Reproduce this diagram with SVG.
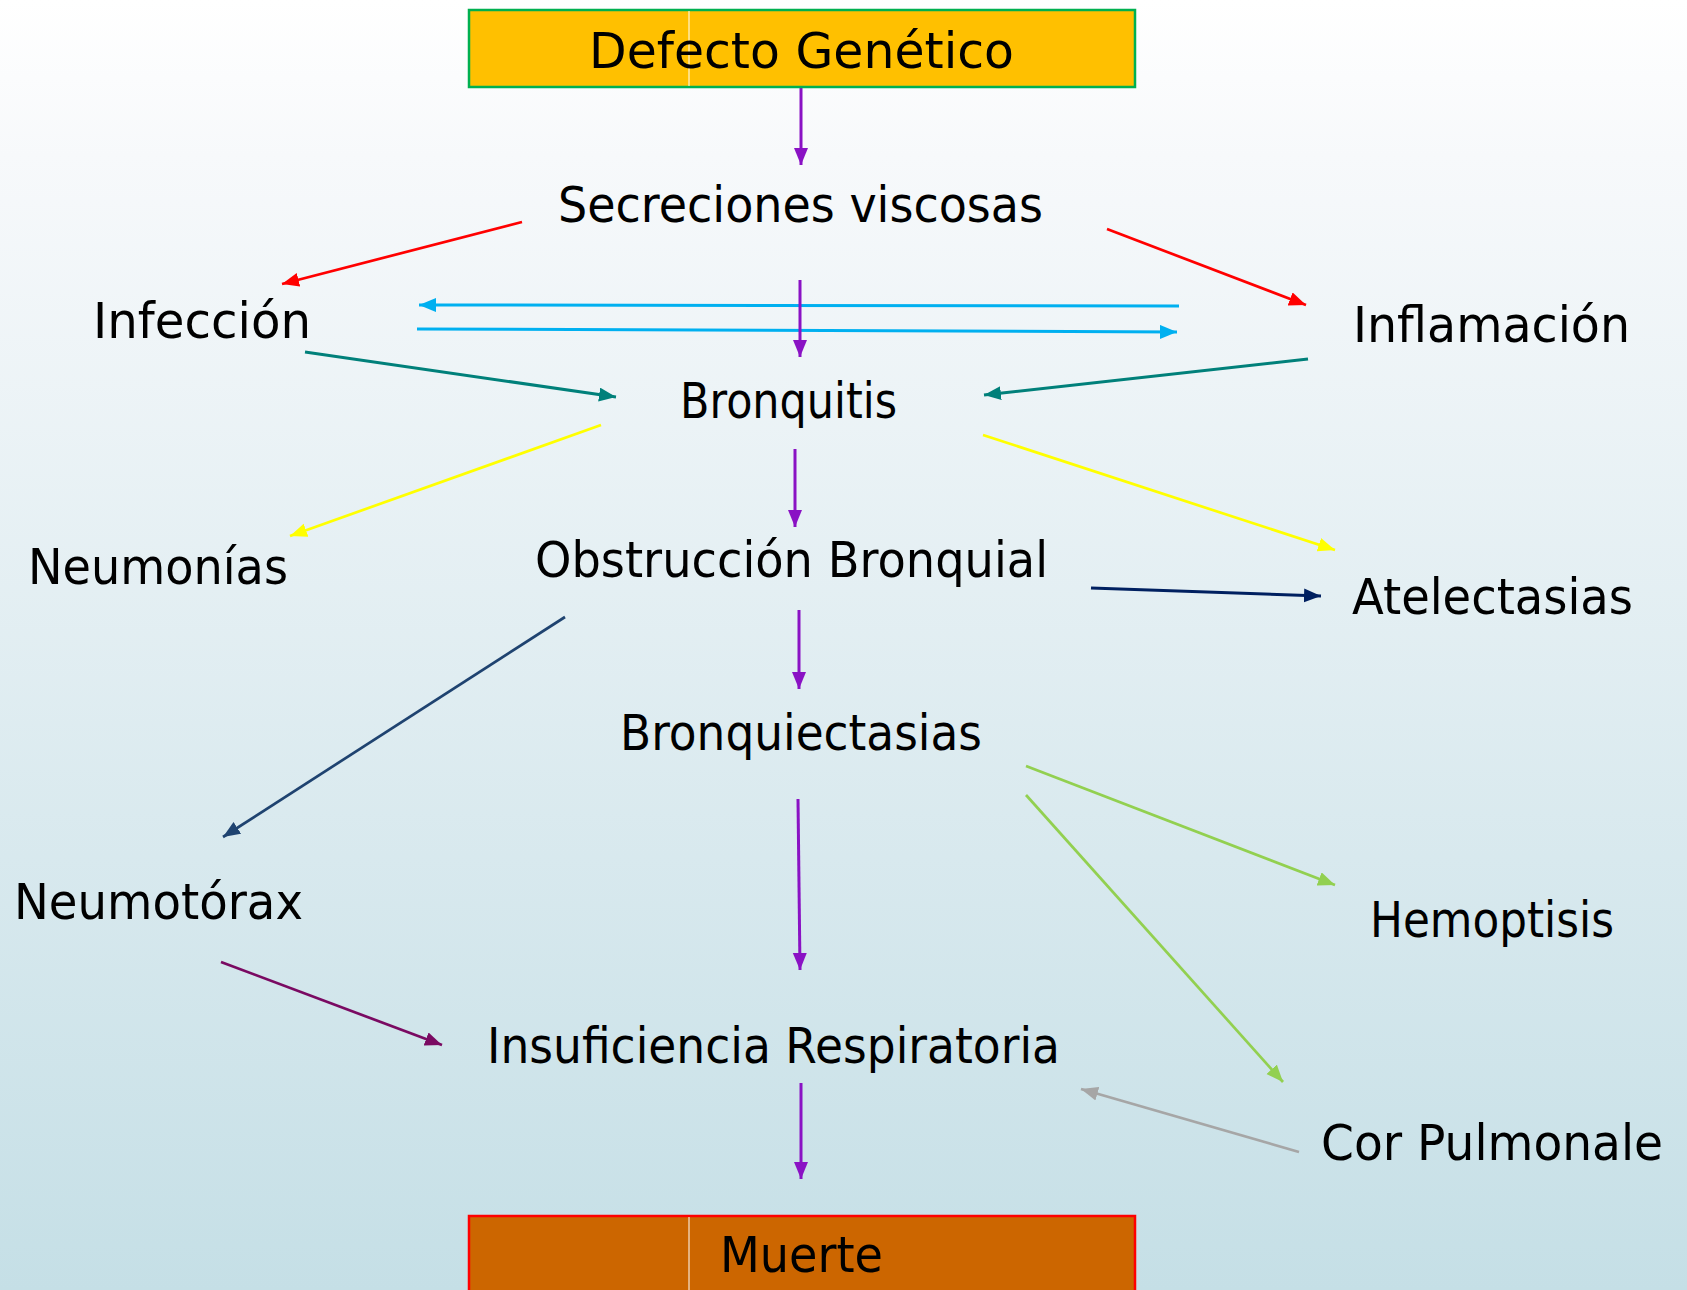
<svg xmlns="http://www.w3.org/2000/svg" width="1687" height="1290" viewBox="0 0 1687 1290">
<defs>
<linearGradient id="bg" x1="0" y1="0" x2="0" y2="1">
<stop offset="0" stop-color="#FFFFFF"/>
<stop offset="0.12" stop-color="#F7F9FB"/>
<stop offset="1" stop-color="#C5DFE6"/>
</linearGradient>
<marker id="m-purple" markerUnits="userSpaceOnUse" markerWidth="19" markerHeight="15" refX="17" refY="7" orient="auto"><path d="M0,0 L17,7 L0,14 Z" fill="#8A12C4"/></marker>
<marker id="m-red" markerUnits="userSpaceOnUse" markerWidth="19" markerHeight="15" refX="17" refY="7" orient="auto"><path d="M0,0 L17,7 L0,14 Z" fill="#FF0000"/></marker>
<marker id="m-blue" markerUnits="userSpaceOnUse" markerWidth="19" markerHeight="15" refX="17" refY="7" orient="auto"><path d="M0,0 L17,7 L0,14 Z" fill="#00B0F0"/></marker>
<marker id="m-teal" markerUnits="userSpaceOnUse" markerWidth="19" markerHeight="15" refX="17" refY="7" orient="auto"><path d="M0,0 L17,7 L0,14 Z" fill="#00807A"/></marker>
<marker id="m-yellow" markerUnits="userSpaceOnUse" markerWidth="19" markerHeight="15" refX="17" refY="7" orient="auto"><path d="M0,0 L17,7 L0,14 Z" fill="#FFFF00"/></marker>
<marker id="m-navy" markerUnits="userSpaceOnUse" markerWidth="19" markerHeight="15" refX="17" refY="7" orient="auto"><path d="M0,0 L17,7 L0,14 Z" fill="#002060"/></marker>
<marker id="m-dblue" markerUnits="userSpaceOnUse" markerWidth="19" markerHeight="15" refX="17" refY="7" orient="auto"><path d="M0,0 L17,7 L0,14 Z" fill="#1F4370"/></marker>
<marker id="m-green" markerUnits="userSpaceOnUse" markerWidth="19" markerHeight="15" refX="17" refY="7" orient="auto"><path d="M0,0 L17,7 L0,14 Z" fill="#92D050"/></marker>
<marker id="m-plum" markerUnits="userSpaceOnUse" markerWidth="19" markerHeight="15" refX="17" refY="7" orient="auto"><path d="M0,0 L17,7 L0,14 Z" fill="#7A0A62"/></marker>
<marker id="m-gray" markerUnits="userSpaceOnUse" markerWidth="19" markerHeight="15" refX="17" refY="7" orient="auto"><path d="M0,0 L17,7 L0,14 Z" fill="#A6A6A6"/></marker>
</defs>
<style>
.t{font-family:"DejaVu Sans","Liberation Sans",sans-serif;font-size:50px;fill:#000;}
.c{fill:none;stroke-width:2.7;stroke-linecap:butt;}
.purple{stroke:#8A12C4;stroke-width:3;marker-end:url(#m-purple);}
.red{stroke:#FF0000;marker-end:url(#m-red);}
.blue{stroke:#00B0F0;stroke-width:3;marker-end:url(#m-blue);}
.teal{stroke:#00807A;stroke-width:3;marker-end:url(#m-teal);}
.yellow{stroke:#FFFF00;marker-end:url(#m-yellow);}
.navy{stroke:#002060;stroke-width:3;marker-end:url(#m-navy);}
.dblue{stroke:#1F4370;marker-end:url(#m-dblue);}
.green{stroke:#92D050;marker-end:url(#m-green);}
.plum{stroke:#7A0A62;marker-end:url(#m-plum);}
.gray{stroke:#A6A6A6;marker-end:url(#m-gray);}
</style>
<rect x="0" y="0" width="1687" height="1290" fill="url(#bg)"/>

<g id="connectors">
<line class="c purple" x1="801" y1="88" x2="801" y2="165"/>
<line class="c red" x1="522" y1="222" x2="282" y2="284"/>
<line class="c red" x1="1107" y1="229" x2="1306" y2="305"/>
<line class="c blue" x1="1179" y1="306" x2="419" y2="305"/>
<line class="c blue" x1="417" y1="329" x2="1177" y2="332"/>
<line class="c purple" x1="800" y1="280" x2="800" y2="357"/>
<line class="c teal" x1="305" y1="352" x2="616" y2="397"/>
<line class="c teal" x1="1308" y1="359" x2="984" y2="395"/>
<line class="c yellow" x1="601" y1="425" x2="290" y2="536"/>
<line class="c yellow" x1="983" y1="435" x2="1335" y2="550"/>
<line class="c purple" x1="795" y1="449" x2="795" y2="527"/>
<line class="c navy" x1="1091" y1="588" x2="1321" y2="596"/>
<line class="c purple" x1="799" y1="610" x2="799" y2="689"/>
<line class="c dblue" x1="565" y1="617" x2="223" y2="837"/>
<line class="c green" x1="1026" y1="766" x2="1335" y2="885"/>
<line class="c green" x1="1026" y1="795" x2="1283" y2="1082"/>
<line class="c purple" x1="798" y1="799" x2="800" y2="970"/>
<line class="c plum" x1="221" y1="962" x2="442" y2="1045"/>
<line class="c gray" x1="1299" y1="1152" x2="1081" y2="1089"/>
<line class="c purple" x1="801" y1="1083" x2="801" y2="1179"/>
</g>

<g id="defecto">
<rect x="469" y="10" width="666" height="77" fill="#FFC000" stroke="#00B050" stroke-width="2.5"/>
<line x1="689" y1="11" x2="689" y2="86" stroke="#FFFFFF" stroke-width="1"/>
<text class="t" x="589" y="68" textLength="425" lengthAdjust="spacingAndGlyphs">Defecto Genético</text>
</g>
<g id="secreciones"><text class="t" x="558" y="222" textLength="485" lengthAdjust="spacingAndGlyphs">Secreciones viscosas</text></g>
<g id="infeccion"><text class="t" x="93" y="338" textLength="218" lengthAdjust="spacingAndGlyphs">Infección</text></g>
<g id="inflamacion"><text class="t" x="1353" y="342" textLength="277" lengthAdjust="spacingAndGlyphs">Inflamación</text></g>
<g id="bronquitis"><text class="t" x="680" y="418" textLength="217" lengthAdjust="spacingAndGlyphs">Bronquitis</text></g>
<g id="neumonias"><text class="t" x="28" y="584" textLength="260" lengthAdjust="spacingAndGlyphs">Neumonías</text></g>
<g id="obstruccion"><text class="t" x="535" y="577" textLength="513" lengthAdjust="spacingAndGlyphs">Obstrucción Bronquial</text></g>
<g id="atelectasias"><text class="t" x="1352" y="614" textLength="281" lengthAdjust="spacingAndGlyphs">Atelectasias</text></g>
<g id="bronquiectasias"><text class="t" x="620" y="750" textLength="362" lengthAdjust="spacingAndGlyphs">Bronquiectasias</text></g>
<g id="neumotorax"><text class="t" x="14" y="919" textLength="289" lengthAdjust="spacingAndGlyphs">Neumotórax</text></g>
<g id="hemoptisis"><text class="t" x="1370" y="937" textLength="244" lengthAdjust="spacingAndGlyphs">Hemoptisis</text></g>
<g id="insuficiencia"><text class="t" x="487" y="1063" textLength="573" lengthAdjust="spacingAndGlyphs">Insuficiencia Respiratoria</text></g>
<g id="cor"><text class="t" x="1321" y="1160" textLength="342" lengthAdjust="spacingAndGlyphs">Cor Pulmonale</text></g>
<g id="muerte">
<rect x="469" y="1216" width="666" height="80" fill="#CC6600" stroke="#FF0000" stroke-width="2.5"/>
<line x1="689" y1="1217" x2="689" y2="1290" stroke="#FFFFFF" stroke-width="1"/>
<text class="t" x="720" y="1272" textLength="163" lengthAdjust="spacingAndGlyphs">Muerte</text>
</g>
</svg>
